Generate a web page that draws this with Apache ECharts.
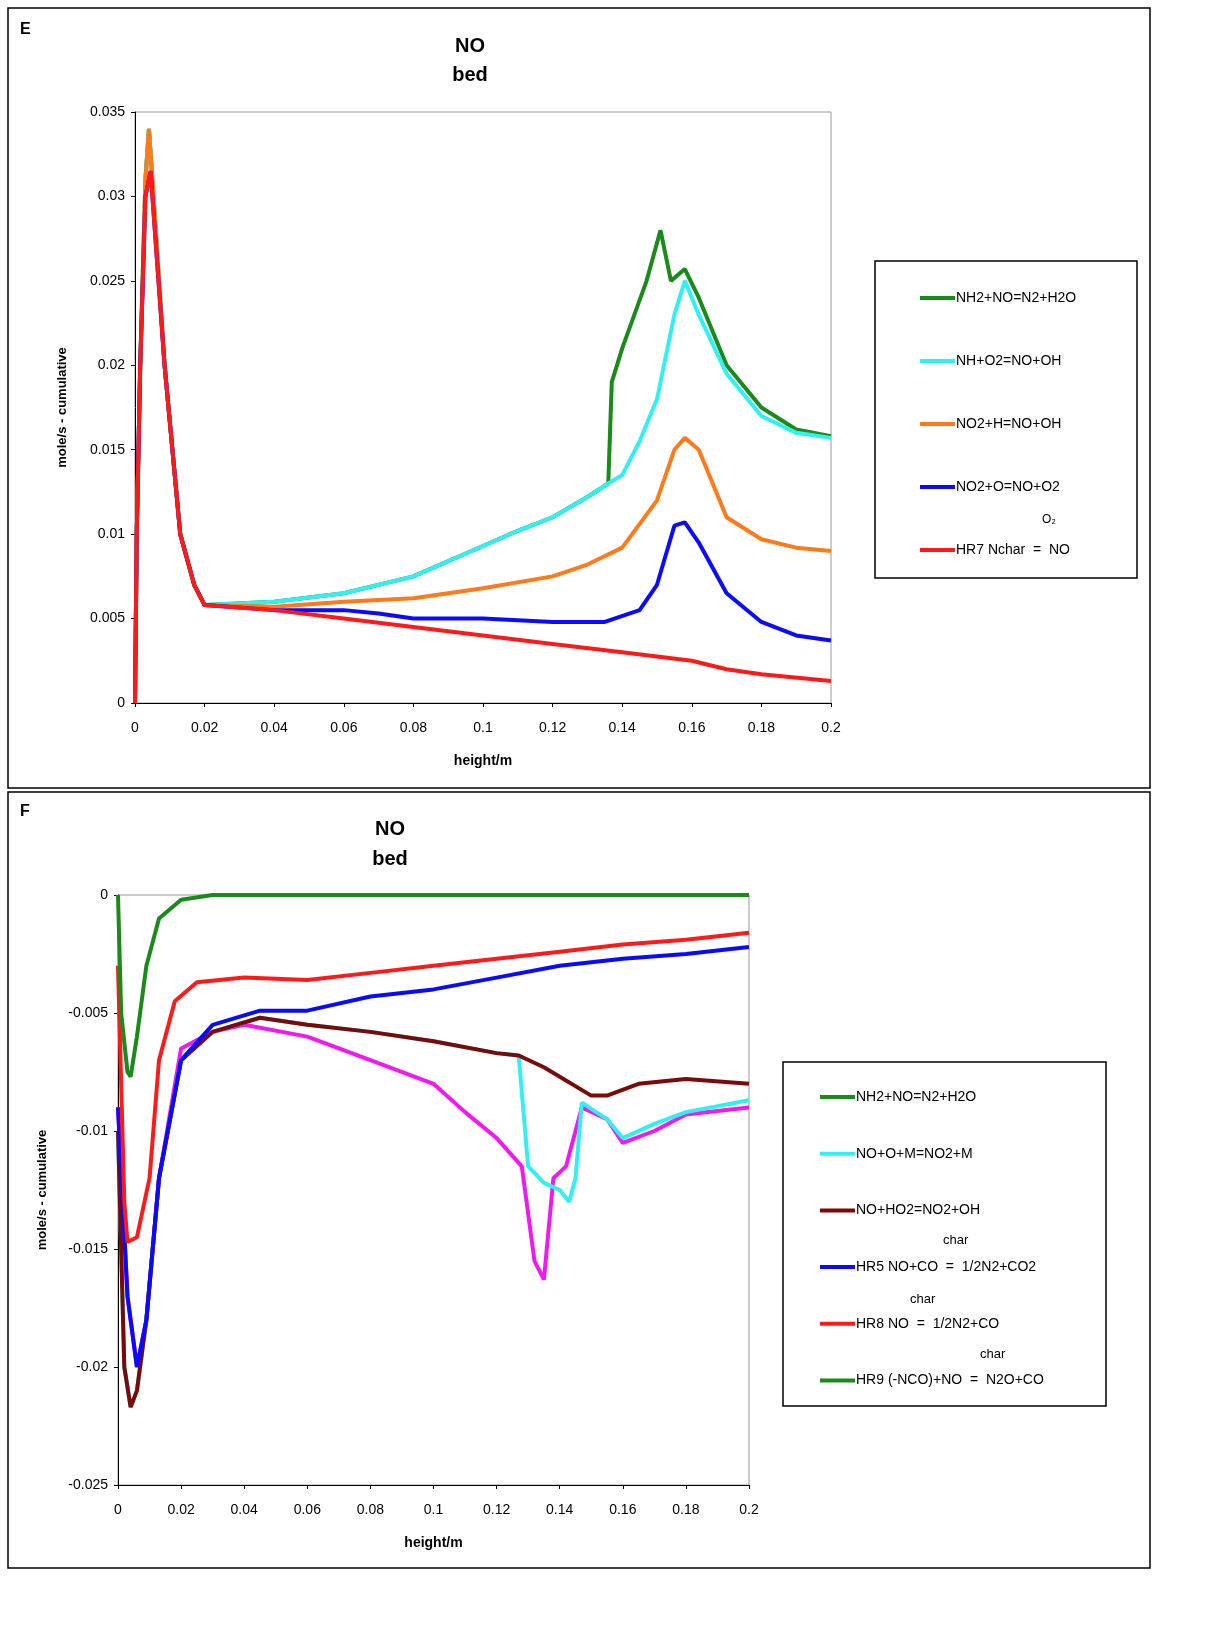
<!DOCTYPE html>
<html><head><meta charset="utf-8">
<script src="https://cdn.jsdelivr.net/npm/echarts@6/dist/echarts.min.js"></script>
<style>html,body{margin:0;padding:0;background:#fff}#c{width:1212px;height:1651px}</style>
</head><body><div id="c"></div>
<script>
// panel E - NO bed (positive contributions)
const xSpike = [0, 0.0005, 0.0015, 0.003, 0.004, 0.0045, 0.005, 0.0085, 0.013, 0.017, 0.02];
const redSpike = [0, 0.01, 0.02, 0.03, 0.031, 0.0315, 0.03, 0.02, 0.01, 0.007, 0.0058];
const orangeSpike = [0, 0.01, 0.02, 0.031, 0.034, 0.034, 0.031, 0.02, 0.01, 0.007, 0.0058];

const eRedX = [0.04, 0.06, 0.08, 0.1, 0.12, 0.14, 0.16, 0.17, 0.18, 0.2];
const eRedY = [0.0055, 0.005, 0.0045, 0.004, 0.0035, 0.003, 0.0025, 0.002, 0.0017, 0.0013];
const eOrangeX = [0.04, 0.06, 0.08, 0.1, 0.12, 0.13, 0.14, 0.15, 0.155, 0.158, 0.162, 0.17, 0.18, 0.19, 0.2];
const eOrangeY = [0.0057, 0.006, 0.0062, 0.0068, 0.0075, 0.0082, 0.0092, 0.012, 0.015, 0.0157, 0.015, 0.011, 0.0097, 0.0092, 0.009];
const eBlueX = [0.04, 0.06, 0.07, 0.08, 0.1, 0.12, 0.135, 0.145, 0.15, 0.155, 0.158, 0.162, 0.17, 0.18, 0.19, 0.2];
const eBlueY = [0.0055, 0.0055, 0.0053, 0.005, 0.005, 0.0048, 0.0048, 0.0055, 0.007, 0.0105, 0.0107, 0.0095, 0.0065, 0.0048, 0.004, 0.0037];
const eCyanX = [0.04, 0.06, 0.08, 0.1, 0.11, 0.12, 0.13, 0.136, 0.14, 0.145, 0.15, 0.155, 0.158, 0.162, 0.17, 0.18, 0.19, 0.2];
const eCyanY = [0.006, 0.0065, 0.0075, 0.0093, 0.0102, 0.011, 0.0122, 0.013, 0.0135, 0.0155, 0.018, 0.023, 0.025, 0.023, 0.0195, 0.017, 0.016, 0.0157];
const eGreenX = [0.04, 0.06, 0.08, 0.1, 0.11, 0.12, 0.13, 0.136, 0.137, 0.14, 0.147, 0.151, 0.154, 0.158, 0.162, 0.17, 0.18, 0.19, 0.2];
const eGreenY = [0.006, 0.0065, 0.0075, 0.0093, 0.0102, 0.011, 0.0122, 0.013, 0.019, 0.021, 0.025, 0.028, 0.025, 0.0257, 0.024, 0.02, 0.0175, 0.0162, 0.0158];

// panel F - NO bed (negative contributions)
const fGreenX = [0, 0.001, 0.003, 0.004, 0.006, 0.009, 0.013, 0.02, 0.03, 0.2];
const fGreenY = [0, -0.005, -0.0075, -0.0077, -0.006, -0.003, -0.001, -0.0002, 0, 0];
const fRedX = [0, 0.002, 0.003, 0.006, 0.01, 0.013, 0.018, 0.025, 0.04, 0.06, 0.08, 0.1, 0.12, 0.14, 0.16, 0.18, 0.2];
const fRedY = [-0.003, -0.013, -0.0147, -0.0145, -0.012, -0.007, -0.0045, -0.0037, -0.0035, -0.0036, -0.0033, -0.003, -0.0027, -0.0024, -0.0021, -0.0019, -0.0016];
const fBlueX = [0, 0.003, 0.006, 0.009, 0.013, 0.02, 0.03, 0.045, 0.06, 0.08, 0.1, 0.12, 0.14, 0.16, 0.18, 0.2];
const fBlueY = [-0.009, -0.017, -0.02, -0.018, -0.012, -0.007, -0.0055, -0.0049, -0.0049, -0.0043, -0.004, -0.0035, -0.003, -0.0027, -0.0025, -0.0022];
const fBrownX = [0, 0.002, 0.004, 0.006, 0.009, 0.013, 0.02, 0.03, 0.045, 0.06, 0.08, 0.1, 0.12, 0.127, 0.135, 0.15, 0.155, 0.165, 0.18, 0.2];
const fBrownY = [-0.01, -0.02, -0.0217, -0.021, -0.018, -0.012, -0.007, -0.0058, -0.0052, -0.0055, -0.0058, -0.0062, -0.0067, -0.0068, -0.0073, -0.0085, -0.0085, -0.008, -0.0078, -0.008];
const fCyanX = [0, 0.002, 0.004, 0.006, 0.009, 0.013, 0.02, 0.03, 0.045, 0.06, 0.08, 0.1, 0.12, 0.127, 0.13, 0.135, 0.14, 0.143, 0.145, 0.147, 0.155, 0.16, 0.17, 0.18, 0.2];
const fCyanY = [-0.01, -0.02, -0.0217, -0.021, -0.018, -0.012, -0.007, -0.0058, -0.0052, -0.0055, -0.0058, -0.0062, -0.0067, -0.0068, -0.0115, -0.0122, -0.0125, -0.013, -0.012, -0.0088, -0.0095, -0.0103, -0.0097, -0.0092, -0.0087];
const fMagX = [0, 0.003, 0.006, 0.009, 0.013, 0.02, 0.03, 0.04, 0.06, 0.08, 0.1, 0.11, 0.12, 0.128, 0.132, 0.135, 0.138, 0.142, 0.147, 0.155, 0.16, 0.17, 0.18, 0.2];
const fMagY = [-0.009, -0.017, -0.02, -0.018, -0.012, -0.0065, -0.0058, -0.0055, -0.006, -0.007, -0.008, -0.0092, -0.0103, -0.0115, -0.0155, -0.0163, -0.012, -0.0115, -0.009, -0.0095, -0.0105, -0.01, -0.0093, -0.009];

const eNames = ['NH2+NO=N2+H2O', 'NH+O2=NO+OH', 'NO2+H=NO+OH', 'NO2+O=NO+O2', 'HR7 Nchar  =  NO'];
const fNames = ['NH2+NO=N2+H2O', 'NO+O+M=NO2+M', 'NO+HO2=NO2+OH', 'HR5 NO+CO  =  1/2N2+CO2', 'HR8 NO  =  1/2N2+CO', 'HR9 (-NCO)+NO  =  N2O+CO'];

function pts(xs, ys) { return xs.map((x, i) => [x, ys[i]]); }
const spikeE = pts(xSpike, redSpike), spikeO = pts(xSpike, orangeSpike);

const font = 'Liberation Sans, Arial, sans-serif';
const txt = { color: '#000', fontFamily: font, fontSize: 14 };
function xAx(g) {
  return { gridIndex: g, type: 'value', min: 0, max: 0.2, interval: 0.02,
    name: 'height/m', nameLocation: 'middle', nameGap: 51,
    nameTextStyle: Object.assign({}, txt, { fontWeight: 'bold' }),
    axisLine: { onZero: false, lineStyle: { color: '#000' } },
    axisTick: { lineStyle: { color: '#000' }, length: 4 },
    axisLabel: Object.assign({}, txt, { margin: 18 }), splitLine: { show: false } };
}
function yAx(g, min, max, gap) {
  return { gridIndex: g, type: 'value', min: min, max: max, interval: 0.005,
    name: 'mole/s - cumulative', nameLocation: 'middle', nameGap: gap,
    nameTextStyle: Object.assign({}, txt, { fontWeight: 'bold', fontSize: 13 }),
    axisLine: { onZero: false, lineStyle: { color: '#000' } },
    axisTick: { lineStyle: { color: '#000' }, length: 4 },
    axisLabel: Object.assign({}, txt, { margin: 10 }), splitLine: { show: false } };
}
function line(name, data, color, g) {
  return { name: name, type: 'line', xAxisIndex: g, yAxisIndex: g, data: data,
    showSymbol: false, symbol: 'none', lineStyle: { color: color, width: 4 }, itemStyle: { color: color } };
}
function legend(names, left, top, gap) {
  return { data: names, orient: 'vertical', left: left, top: top, itemGap: gap,
    icon: 'rect', itemWidth: 35, itemHeight: 4, textStyle: Object.assign({}, txt, { padding: [0, 0, 0, -4] }) };
}

const series = [
  line(eNames[0], spikeO.concat(pts(eGreenX, eGreenY)), '#1a8a1a', 0),
  line(eNames[1], spikeO.concat(pts(eCyanX, eCyanY)), '#33f0f0', 0),
  line(eNames[2], spikeO.concat(pts(eOrangeX, eOrangeY)), '#ff7a1a', 0),
  line(eNames[3], spikeE.concat(pts(eBlueX, eBlueY)), '#0a0aff', 0),
  line(eNames[4], spikeE.concat(pts(eRedX, eRedY)), '#ff1a1a', 0),
  line(fNames[0], pts(fMagX, fMagY), '#f01af0', 1),
  line(fNames[1], pts(fCyanX, fCyanY), '#33f0f0', 1),
  line(fNames[2], pts(fBrownX, fBrownY), '#7a0a0a', 1),
  line(fNames[3], pts(fBlueX, fBlueY), '#0a0aff', 1),
  line(fNames[4], pts(fRedX, fRedY), '#ff1a1a', 1),
  line(fNames[5], pts(fGreenX, fGreenY), '#1a8a1a', 1)
];

const chart = echarts.init(document.getElementById('c'));
chart.setOption({
  backgroundColor: '#fff',
  animation: false,
  grid: [
    { left: 135, top: 112, width: 696, height: 591, show: true, borderColor: '#999', borderWidth: 1 },
    { left: 118, top: 895, width: 631, height: 590, show: true, borderColor: '#999', borderWidth: 1 }
  ],
  xAxis: [xAx(0), xAx(1)],
  yAxis: [yAx(0, 0, 0.035, 66), yAx(1, -0.025, 0, 69)],
  legend: [legend(eNames, 915, 286, 49), legend(fNames, 815, 1085, 42.7)],
  series: series,
  graphic: [
    { type: 'rect', shape: { x: 8, y: 8, width: 1142, height: 780 }, style: { fill: 'none', stroke: '#000', lineWidth: 1.5 } },
    { type: 'rect', shape: { x: 8, y: 792, width: 1142, height: 776 }, style: { fill: 'none', stroke: '#000', lineWidth: 1.5 } },
    { type: 'rect', shape: { x: 875, y: 261, width: 262, height: 317 }, style: { fill: 'none', stroke: '#000', lineWidth: 1.5 } },
    { type: 'rect', shape: { x: 783, y: 1062, width: 323, height: 344 }, style: { fill: 'none', stroke: '#000', lineWidth: 1.5 } },
    { type: 'text', left: 20, top: 22, style: { text: 'E', font: 'bold 16px ' + font, fill: '#000' } },
    { type: 'text', left: 20, top: 804, style: { text: 'F', font: 'bold 16px ' + font, fill: '#000' } },
    { type: 'text', x: 470, y: 32, style: { text: 'NO\nbed', align: 'center', lineHeight: 29, font: 'bold 20px ' + font, fill: '#000' } },
    { type: 'text', x: 390, y: 814, style: { text: 'NO\nbed', align: 'center', lineHeight: 30, font: 'bold 20px ' + font, fill: '#000' } },
    { type: 'text', x: 1042, y: 514, style: { text: 'O₂', font: '12px ' + font, fill: '#000' } },
    { type: 'text', x: 943, y: 1234, style: { text: 'char', font: '13px ' + font, fill: '#000' } },
    { type: 'text', x: 910, y: 1293, style: { text: 'char', font: '13px ' + font, fill: '#000' } },
    { type: 'text', x: 980, y: 1348, style: { text: 'char', font: '13px ' + font, fill: '#000' } }
  ]
});
</script></body></html>
